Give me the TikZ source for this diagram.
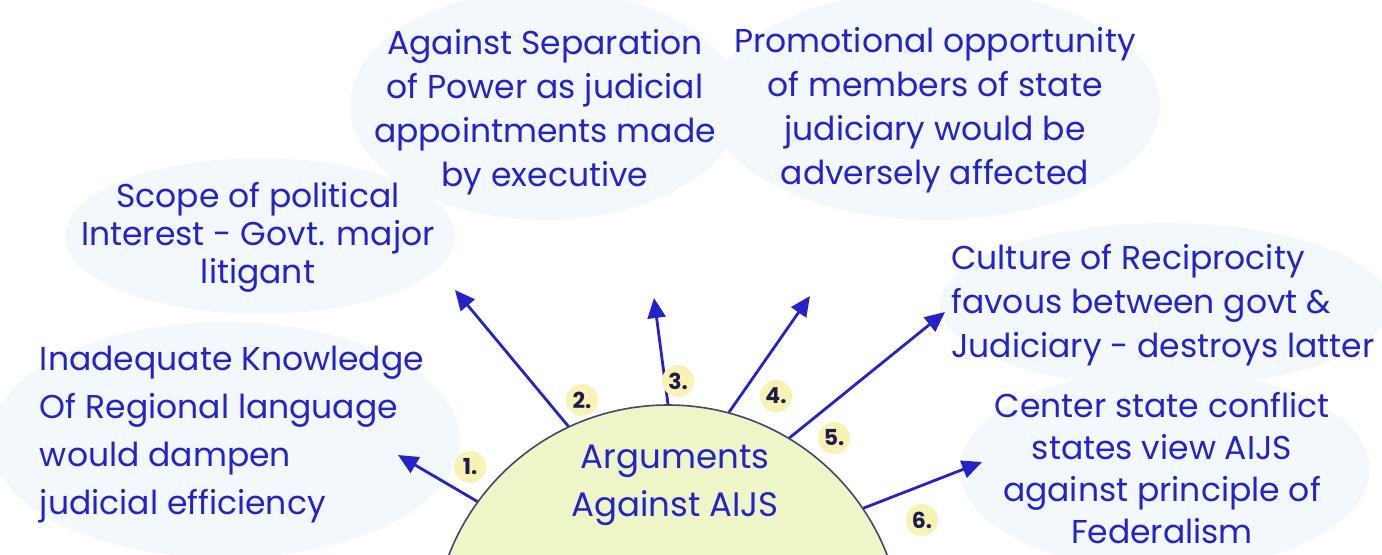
\documentclass[tikz,border=0pt]{standalone}
\usepackage{fontspec}
\setmainfont{Poppins}
\usetikzlibrary{arrows.meta,positioning,calc}
\definecolor{InkBlue}{HTML}{2323C8}
\definecolor{NumInk}{HTML}{1C1C4E}
\definecolor{SoftBlue}{HTML}{F3F8FD}
\definecolor{HubFill}{HTML}{EEF5C6}
\definecolor{HubLine}{HTML}{45456A}
\definecolor{HaloYellow}{HTML}{F8F3B5}

\begin{document}
\begin{tikzpicture}[
  x=0.5pt,y=-0.5pt,
  every node/.style={font=\fontsize{16.5}{22}\selectfont,text=InkBlue},
  blob/.style={fill=SoftBlue,draw=none},
  point/.style={align=center,inner sep=0pt},
  num/.style={circle,fill=HaloYellow,text=NumInk,inner sep=1pt,minimum size=16pt,font=\bfseries\fontsize{11}{11}\selectfont},
  arr/.style={-{Triangle[length=10pt,width=9pt]},line width=1.4pt,color=InkBlue}
]
\useasboundingbox (0,0) rectangle (1382,554);
\clip (0,0) rectangle (1382,554);
% soft background patches
\fill[blob] (225,440) ellipse (235 and 118);
\fill[blob] (260,236) ellipse (195 and 78);
\fill[blob] (545,105) ellipse (195 and 115);
\fill[blob] (935,105) ellipse (225 and 115);
\fill[blob] (1165,305) ellipse (225 and 82);
\fill[blob] (1165,470) ellipse (205 and 100);
% centre half disc
\node[circle,draw=HubLine,fill=HubFill,line width=0.8pt,minimum size=235pt,inner sep=0pt] (hub) at (668,640) {};
\node[point,font=\fontsize{17}{24}\selectfont] (title) at (675,485) {Arguments\\Against AIJS};
% the six points
\node[point,align=left] (lang) at (232,435) {Inadequate Knowledge\\[2pt]Of Regional language\\[2pt]would dampen\\[2pt]judicial efficiency};
\node[point,font=\fontsize{16.5}{19}\selectfont] (pol) at (258,237) {Scope of political\\Interest - Govt. major\\litigant};
\node[point] (sep) at (545,112) {Against Separation\\of Power as judicial\\appointments made\\by executive};
\node[point] (promo) at (935,110) {Promotional opportunity\\of members of state\\judiciary would be\\adversely affected};
\node[point,align=left] (recip) at (1163,305) {Culture of Reciprocity\\favous between govt \&\\Judiciary - destroys latter};
\node[point,font=\fontsize{16.5}{21}\selectfont] (fed) at (1162,468) {Center state conflict\\states view AIJS\\against principle of\\Federalism};
% arrow tips
\coordinate (t1) at (398,455);
\coordinate (t2) at (455,290);
\coordinate (t3) at (654,298);
\coordinate (t4) at (810,296);
\coordinate (t5) at (945,312);
\coordinate (t6) at (982,462);
\draw[arr] (hub.144.7) -- (t1);
\draw[arr] (hub.115.9) -- (t2);
\draw[arr] (hub.90.5) -- (t3);
\draw[arr] (hub.75.2) -- (t4);
\draw[arr] (hub.59) -- (t5);
\draw[arr] (hub.34.7) -- (t6);
% numbers
\node[num] (n1) at (470,467) {1.};
\node[num] (n2) at (582,400) {2.};
\node[num] (n3) at (678,381) {3.};
\node[num] (n4) at (776,396) {4.};
\node[num] (n5) at (834,438) {5.};
\node[num] (n6) at (922,520) {6.};
\end{tikzpicture}
\end{document}
